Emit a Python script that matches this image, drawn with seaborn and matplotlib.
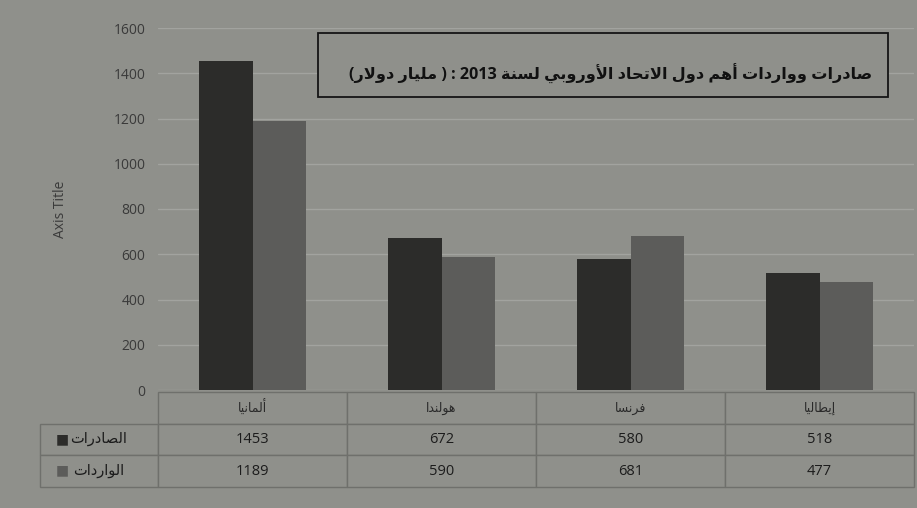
import re
import pandas as pd
import seaborn as sns
import matplotlib.pyplot as plt
from matplotlib.patches import Rectangle

# chart data
countries = ['ألمانيا', 'هولندا', 'فرنسا', 'إيطاليا']
series_names = ['الصادرات', 'الواردات']
exports = [1453, 672, 580, 518]
imports = [1189, 590, 681, 477]
y_ticks = [0, 200, 400, 600, 800, 1000, 1200, 1400, 1600]
title = 'صادرات وواردات أهم دول الاتحاد الأوروبي لسنة 2013 : ( مليار دولار)'
y_label = 'Axis Title'

bg = '#8f908b'
dark = '#2c2c2a'
light = '#5c5c5a'
grid_col = '#a2a39f'
edge_col = '#6f706c'
text_col = '#1c1c1c'

# matplotlib has no arabic shaping, so pick the joined glyph forms by hand
# letter -> (isolated form, number of forms); 2 forms means it never joins to the next letter
FORMS = {
    'ا': (0xFE8D, 2), 'أ': (0xFE83, 2), 'إ': (0xFE87, 2), 'ب': (0xFE8F, 4),
    'ة': (0xFE93, 2), 'ت': (0xFE95, 4), 'ح': (0xFEA1, 4), 'د': (0xFEA9, 2),
    'ر': (0xFEAD, 2), 'س': (0xFEB1, 4), 'ص': (0xFEB9, 4), 'ط': (0xFEC1, 4),
    'ف': (0xFED1, 4), 'ل': (0xFEDD, 4), 'م': (0xFEE1, 4), 'ن': (0xFEE5, 4),
    'ه': (0xFEE9, 4), 'و': (0xFEED, 2), 'ي': (0xFEF1, 4),
}
LAM_ALEF = {'ا': 0xFEFB, 'أ': 0xFEF7, 'إ': 0xFEF9}


def shape(text):
  units = []
  i = 0
  while i < len(text):
    c = text[i]
    if c == 'ل' and i + 1 < len(text) and text[i + 1] in LAM_ALEF:
      units.append((LAM_ALEF[text[i + 1]], 2))
      i += 2
    else:
      units.append(FORMS.get(c, c))
      i += 1
  out = []
  for k, u in enumerate(units):
    if isinstance(u, str):
      out.append(u)
      continue
    iso, n = u
    prev = units[k - 1] if k > 0 else None
    nxt = units[k + 1] if k + 1 < len(units) else None
    join_prev = isinstance(prev, tuple) and prev[1] == 4
    join_next = n == 4 and isinstance(nxt, tuple)
    if join_prev and join_next:
      out.append(chr(iso + 3))
    elif join_prev:
      out.append(chr(iso + 1))
    elif join_next:
      out.append(chr(iso + 2))
    else:
      out.append(chr(iso))
  # right to left: reverse, but keep numbers readable and mirror brackets
  visual = ''.join(out)[::-1]
  visual = re.sub(r'[0-9]+', lambda m: m.group()[::-1], visual)
  return visual.translate({ord('('): ')', ord(')'): '('})


sns.set_theme(style='whitegrid')
plt.rcParams['font.family'] = ['Open Sans', 'DejaVu Sans']

fig = plt.figure(figsize=(9.17, 5.08), dpi=100, facecolor=bg)
ax = fig.add_axes([158 / 917, 1 - 390 / 508, 756 / 917, 362 / 508])
ax.set_facecolor(bg)

df = pd.DataFrame({
    'country': countries * 2,
    'series': [series_names[0]] * len(countries) + [series_names[1]] * len(countries),
    'value': exports + imports,
})
sns.barplot(data=df, x='country', y='value', hue='series', order=countries,
            hue_order=series_names, palette=[dark, light], width=0.57,
            saturation=1, legend=False, ax=ax, edgecolor='none')

ax.set_xlim(-0.5, len(countries) - 0.5)
ax.set_ylim(0, 1600)
ax.set_yticks(y_ticks)
ax.set_xticks([])
ax.set_xlabel('')
ax.set_ylabel(y_label, fontsize=10, color='#3a3a3a')
ax.yaxis.set_label_coords((68 - 158) / 756, 0.5)
ax.tick_params(axis='y', length=0, pad=9, labelsize=10, labelcolor='#3a3a3a')
ax.grid(axis='y', color=grid_col, lw=1)
ax.set_axisbelow(True)
for s in ax.spines.values():
  s.set_visible(False)

# data table under the bars
label_w = 118 / 756
col_w = 189 / 756
cell_text = [[shape(name)] + [str(v) for v in vals]
             for name, vals in zip(series_names, [exports, imports])]
col_labels = [''] + [shape(c) for c in countries]
tbl = ax.table(cellText=cell_text, colLabels=col_labels,
               colWidths=[label_w] + [col_w] * len(countries),
               cellLoc='center', bbox=[-label_w, -0.268, label_w + col_w * len(countries), 0.262])
tbl.auto_set_font_size(False)
for (r, c), cell in tbl.get_celld().items():
  cell.set_facecolor(bg)
  cell.set_edgecolor(edge_col)
  cell.set_linewidth(1)
  if r == 0:
    cell.get_text().set_fontsize(9)
    cell.get_text().set_color('#2a2a2a')
  else:
    cell.get_text().set_fontsize(10.5)
    cell.get_text().set_color(text_col)
  if r == 0 and c == 0:
    cell.visible_edges = ''

# legend keys in the row-label cells
row_h = 0.262 / 3
for i, color in enumerate([dark, light]):
  yc = -0.006 - row_h * (i + 1.5)
  ax.text((62 - 158) / 756, yc, '■', color=color, fontsize=10,
          ha='center', va='center', transform=ax.transAxes)

# boxed title
ax.add_patch(Rectangle((0.212, 0.809), 0.754, 0.177, transform=ax.transAxes,
                       facecolor=bg, edgecolor='#151515', lw=1.3, zorder=3))
ax.text(0.944, 0.872, shape(title), transform=ax.transAxes, ha='right', va='center',
        fontsize=11.6, fontweight='bold', color='#111111', zorder=4)

fig.savefig('out.png', dpi=100, facecolor=bg)
